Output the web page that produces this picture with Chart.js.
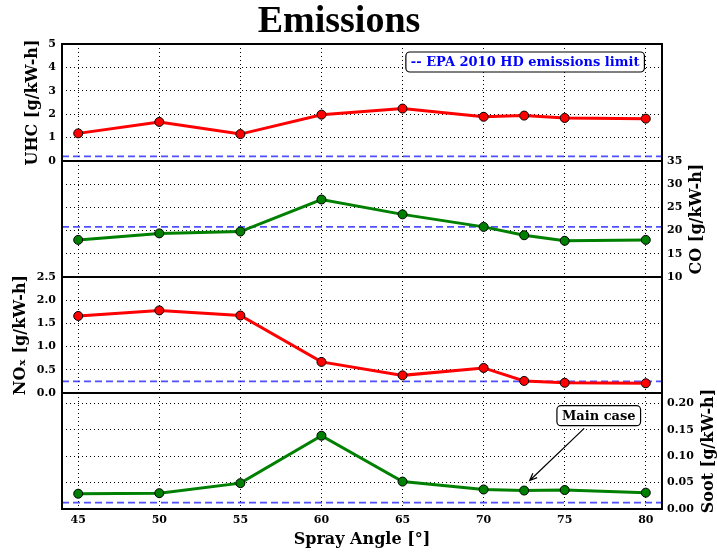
<!DOCTYPE html>
<html>
<head>
<meta charset="utf-8">
<title>Emissions</title>
<script src="https://cdn.jsdelivr.net/npm/chart.js@4.4.1/dist/chart.umd.min.js"></script>
<style>
  html, body { margin: 0; padding: 0; background: #fff; }
  #wrap { position: relative; width: 717px; height: 555px; }
  #wrap canvas { position: absolute; left: 0; top: 0; }
</style>
</head>
<body>
<div id="wrap">
  <canvas id="uhc" width="717" height="555"></canvas>
  <canvas id="co" width="717" height="555"></canvas>
  <canvas id="nox" width="717" height="555"></canvas>
  <canvas id="soot" width="717" height="555"></canvas>
</div>
<script>
// values
const sprayAngles = [45, 50, 55, 60, 65, 70, 72.5, 75, 80];
const uhcValues  = [1.18, 1.67, 1.15, 1.98, 2.24, 1.89, 1.94, 1.84, 1.81];
const coValues   = [18.0, 19.4, 19.8, 26.7, 23.5, 20.8, 19.0, 17.8, 18.0];
const noxValues  = [1.66, 1.78, 1.67, 0.67, 0.38, 0.54, 0.26, 0.22, 0.21];
const sootValues = [0.029, 0.030, 0.049, 0.139, 0.052, 0.037, 0.035, 0.036, 0.031];

// EPA 2010 heavy duty limits
const uhcLimit = 0.2;
const coLimit = 20.8;
const noxLimit = 0.25;
const sootLimit = 0.012;

const angleTicks = [45, 50, 55, 60, 65, 70, 75, 80];
const uhcTicks  = [0, 1, 2, 3, 4, 5];
const coTicks   = [10, 15, 20, 25, 30, 35];
const noxTicks  = [0, 0.5, 1, 1.5, 2, 2.5];
const sootTicks = [0, 0.05, 0.1, 0.15, 0.2];

const X_MIN = 44, X_MAX = 81;
const SERIF = "'DejaVu Serif', serif";
const tickFont = { family: SERIF, size: 11, weight: 'bold' };
const labelFont = { family: SERIF, size: 16, weight: 'bold' };

// black box round each panel
const framePlugin = {
	id: 'frame',
	afterDraw(chart) {
		const { ctx, chartArea: a } = chart;
		ctx.save();
		ctx.strokeStyle = '#000';
		ctx.lineWidth = 2;
		ctx.strokeRect(a.left, a.top, a.right - a.left, a.bottom - a.top);
		ctx.restore();
	},
};

// y title on the right side, read bottom to top like the left ones
const sideTitle = (text, dx) => ({
	id: 'sideTitle',
	afterDraw(chart) {
		const { ctx, chartArea: a } = chart;
		ctx.save();
		ctx.translate(a.right + dx, (a.top + a.bottom) / 2);
		ctx.rotate(-Math.PI / 2);
		ctx.font = 'bold 16px ' + SERIF;
		ctx.fillStyle = '#000';
		ctx.textAlign = 'center';
		ctx.textBaseline = 'middle';
		ctx.fillText(text, 0, 0);
		ctx.restore();
	},
});

const roundRect = (ctx, x, y, w, h, r) => {
	ctx.beginPath();
	ctx.moveTo(x + r, y);
	ctx.arcTo(x + w, y, x + w, y + h, r);
	ctx.arcTo(x + w, y + h, x, y + h, r);
	ctx.arcTo(x, y + h, x, y, r);
	ctx.arcTo(x, y, x + w, y, r);
	ctx.closePath();
};

// text boxes (and an optional arrow), placed in data units
const notes = (items) => ({
	id: 'notes',
	afterDraw(chart) {
		const { ctx, scales } = chart;
		const xs = scales.x, ys = scales.y;
		items.forEach((n) => {
			ctx.save();
			if (n.arrow) {
				const x1 = xs.getPixelForValue(n.arrow.from[0]);
				const y1 = ys.getPixelForValue(n.arrow.from[1]);
				const x2 = xs.getPixelForValue(n.arrow.to[0]);
				const y2 = ys.getPixelForValue(n.arrow.to[1]);
				const ang = Math.atan2(y2 - y1, x2 - x1);
				ctx.strokeStyle = '#000';
				ctx.lineWidth = 1.2;
				ctx.beginPath();
				ctx.moveTo(x1, y1);
				ctx.lineTo(x2, y2);
				ctx.moveTo(x2 - 8 * Math.cos(ang - 0.4), y2 - 8 * Math.sin(ang - 0.4));
				ctx.lineTo(x2, y2);
				ctx.lineTo(x2 - 8 * Math.cos(ang + 0.4), y2 - 8 * Math.sin(ang + 0.4));
				ctx.stroke();
			}
			ctx.font = 'bold 13px ' + SERIF;
			const w = ctx.measureText(n.text).width;
			const cx = xs.getPixelForValue(n.x);
			const cy = ys.getPixelForValue(n.y);
			roundRect(ctx, cx - w / 2 - 5, cy - 10, w + 10, 20, 4);
			ctx.fillStyle = '#fff';
			ctx.fill();
			ctx.strokeStyle = '#000';
			ctx.lineWidth = 1.2;
			ctx.stroke();
			ctx.fillStyle = n.color;
			ctx.textAlign = 'center';
			ctx.textBaseline = 'middle';
			ctx.fillText(n.text, cx, cy + 1);
			ctx.restore();
		});
	},
});

const toPoints = (ys) => sprayAngles.map((a, i) => ({ x: a, y: ys[i] }));

const seriesSet = (values, color) => ({
	data: toPoints(values),
	borderColor: color,
	borderWidth: 3,
	pointRadius: 4.5,
	pointBackgroundColor: color,
	pointBorderColor: '#000',
	pointBorderWidth: 1,
	tension: 0,
	clip: false,
});

const limitSet = (lim) => ({
	data: [{ x: X_MIN, y: lim }, { x: X_MAX, y: lim }],
	borderColor: 'rgba(20,20,255,0.75)',
	borderWidth: 1.8,
	borderDash: [7, 4],
	pointRadius: 0,
});

const gridOpts = { color: '#000', lineWidth: 1, drawTicks: false };

const xAxis = (shown) => ({
	type: 'linear',
	min: X_MIN,
	max: X_MAX,
	afterBuildTicks: (s) => { s.ticks = angleTicks.map((v) => ({ value: v })); },
	afterFit: (s) => { s.height = shown ? 46 : 0; },
	border: { display: false, dash: [1, 3] },
	grid: gridOpts,
	ticks: { display: shown, padding: 5, color: '#000', font: tickFont, maxRotation: 0 },
	title: {
		display: shown,
		text: 'Spray Angle [°]',
		color: '#000',
		font: labelFont,
		padding: { top: 0, bottom: 6 },
	},
});

const yAxis = (o) => ({
	type: 'linear',
	position: o.side,
	min: o.min,
	max: o.max,
	afterBuildTicks: (s) => { s.ticks = o.ticks.map((v) => ({ value: v })); },
	afterFit: (s) => { s.width = o.width; },
	border: { display: false, dash: [1, 3] },
	grid: gridOpts,
	ticks: {
		padding: o.side === 'left' ? 6 : 5,
		color: '#000',
		font: tickFont,
		callback: (v) => v.toFixed(o.digits),
	},
	title: {
		display: !!o.title,
		text: o.title,
		color: '#000',
		font: labelFont,
		padding: { top: o.titlePad || 0, bottom: 0 },
	},
});

const makeChart = (id, cfg) =>
	new Chart(document.getElementById(id), {
		type: 'line',
		data: { datasets: cfg.datasets },
		options: {
			responsive: false,
			animation: false,
			events: [],
			layout: { padding: cfg.padding },
			scales: { x: xAxis(cfg.showX), y: cfg.y },
			plugins: {
				legend: { display: false },
				tooltip: { enabled: false },
				title: cfg.title || { display: false },
			},
		},
		plugins: [framePlugin].concat(cfg.extra || []),
	});

// UHC
makeChart('uhc', {
	datasets: [seriesSet(uhcValues, '#ff0000'), limitSet(uhcLimit)],
	padding: { left: 16, right: 55, top: 0, bottom: 394 },
	showX: false,
	y: yAxis({ side: 'left', min: 0, max: 5, ticks: uhcTicks, digits: 0, width: 46, title: 'UHC [g/kW-h]', titlePad: 7.4 }),
	title: {
		display: true,
		text: 'Emissions',
		color: '#000',
		font: { family: "'Liberation Serif', serif", size: 38, weight: 'bold', lineHeight: 1.1 },
		padding: { top: 1, bottom: 1.2 },
	},
	extra: [notes([{ text: '-- EPA 2010 HD emissions limit', x: 72.56, y: 4.23, color: '#0000ff' }])],
});

// CO
makeChart('co', {
	datasets: [seriesSet(coValues, '#008000'), limitSet(coLimit)],
	padding: { left: 62, right: 25, top: 161, bottom: 278 },
	showX: false,
	y: yAxis({ side: 'right', min: 10, max: 35, ticks: coTicks, digits: 0, width: 30 }),
	extra: [sideTitle('CO [g/kW-h]', 35)],
});

// NOx
makeChart('nox', {
	datasets: [seriesSet(noxValues, '#ff0000'), limitSet(noxLimit)],
	padding: { left: 0, right: 55, top: 277, bottom: 162 },
	showX: false,
	y: yAxis({ side: 'left', min: 0, max: 2.5, ticks: noxTicks, digits: 1, width: 62, title: 'NOₓ [g/kW-h]', titlePad: 11.4 }),
});

// Soot
makeChart('soot', {
	datasets: [seriesSet(sootValues, '#008000'), limitSet(sootLimit)],
	padding: { left: 62, right: 15, top: 393, bottom: 0 },
	showX: true,
	y: yAxis({ side: 'right', min: 0, max: 0.22, ticks: sootTicks, digits: 2, width: 40 }),
	extra: [
		sideTitle('Soot [g/kW-h]', 47),
		notes([{ text: 'Main case', x: 77.1, y: 0.177, color: '#000', arrow: { from: [76.2, 0.153], to: [72.84, 0.054] } }]),
	],
});
</script>
</body>
</html>
